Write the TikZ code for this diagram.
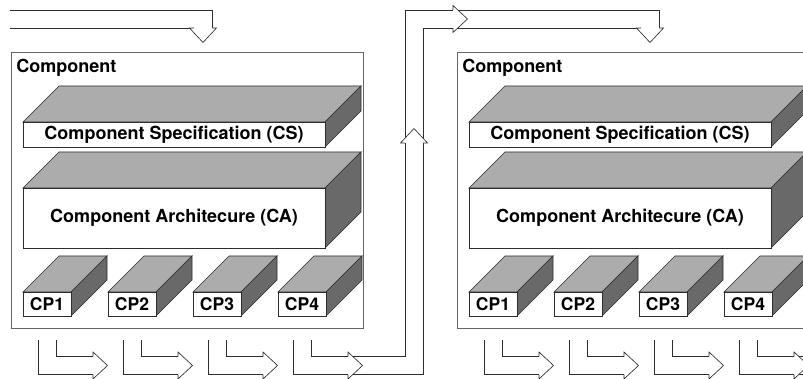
\documentclass[tikz,border=0pt]{standalone}
\usepackage{fontspec}
\setmainfont{TeX Gyre Heros}
\definecolor{topgray}{RGB}{172,172,172}
\definecolor{sidegray}{RGB}{105,105,105}
\definecolor{inkc}{RGB}{45,45,45}
\newcommand{\myslab}[4]{%
  \filldraw[fill=topgray] (#1,#2) -- (#1+36,#2-36) -- (#3+36,#2-36) -- (#3,#2) -- cycle;
  \filldraw[fill=sidegray] (#3,#2) -- (#3+36,#2-36) -- (#3+36,#4-36) -- (#3,#4) -- cycle;
  \filldraw[fill=white] (#1,#2) rectangle (#3,#4);}
% hollow arrow heads: base position, centre
\newcommand{\myrhead}[2]{\filldraw[fill=white] (#1,#2-9) -- (#1,#2-13.5) -- (#1+14.5,#2) -- (#1,#2+13.5) -- (#1,#2+9);}
\newcommand{\mydhead}[2]{\filldraw[fill=white] (#2-9,#1) -- (#2-13.5,#1) -- (#2,#1+14.5) -- (#2+13.5,#1) -- (#2+9,#1);}
\newcommand{\myuhead}[2]{\filldraw[fill=white] (#2-9,#1) -- (#2-13.5,#1) -- (#2,#1-14.5) -- (#2+13.5,#1) -- (#2+9,#1);}
\begin{document}
\begin{tikzpicture}[x=1pt,y=-1pt,line width=0.65pt,draw=inkc,
  boxline/.style={draw=black!60,line width=0.6pt},
  lbl/.style={font=\fontsize{18}{20}\selectfont\bfseries,inner sep=0pt},
  cplbl/.style={font=\fontsize{17.5}{20}\selectfont\bfseries,inner sep=0pt}]
\useasboundingbox (0,0) rectangle (803,379);
\clip (0,0) rectangle (803,379);
\foreach \o/\n in {0/L,446/R}{
\begin{scope}[xshift=\o]
  \draw[boxline] (11,52) rectangle (363,328);
  \node[lbl,anchor=base west] (comp\n) at (16,73) {Component};
  \myslab{23}{122}{325}{147}
  \node[lbl] (cs\n) at (174,134.5) {Component Specification (CS)};
  \myslab{23}{188}{325}{248}
  \node[lbl] (ca\n) at (174,218) {Component Architecure (CA)};
  \foreach \k in {0,1,2,3}{
    \pgfmathsetmacro{\xa}{23+85*\k}
    \pgfmathsetmacro{\xb}{71+85*\k}
    \pgfmathtruncatemacro{\m}{\k+1}
    \myslab{\xa}{292}{\xb}{316}
    \node[cplbl] (cp\n\m) at ({(\xa+\xb)/2},304) {CP\m};
  }
  \foreach \k in {0,1,2}{
    \pgfmathsetmacro{\xo}{38+85*\k}
    \coordinate (ao\n\k) at (\xo,340);
    \coordinate (ai\n\k) at (\xo+18,340);
    \draw (ao\n\k) -- ++(0,34.5) -- ++(55,0);
    \draw (ai\n\k) -- ++(0,16.5) -- ++(37,0);
    \myrhead{\xo+55}{365.5}
  }
\end{scope}
}
% incoming arrow of the left component
\coordinate (inA) at (10,28);
\coordinate (inB) at (10,10);
\draw (inA) -- (194,28);
\draw (inB) -- (212,10) -- (212,28);
\mydhead{28}{203}
% connector from CP4 (left) to the right component
\coordinate (cA) at (293,340);
\coordinate (cB) at (311,340);
\draw (cA) -- (293,374.5) -- (423,374.5) -- (423,28) -- (641,28);
\draw (cB) -- (311,356.5) -- (405,356.5) -- (405,10) -- (659,10) -- (659,28);
\myrhead{348}{365.5}
\myuhead{143}{414}
\myrhead{453}{19}
\mydhead{28}{650}
% outgoing connector of the right component (cut by the edge)
\coordinate (oA) at (739,340);
\coordinate (oB) at (757,340);
\draw (oA) -- (739,374.5) -- (830,374.5);
\draw (oB) -- (757,356.5) -- (830,356.5);
\myrhead{794}{365.5}
\end{tikzpicture}
\end{document}
